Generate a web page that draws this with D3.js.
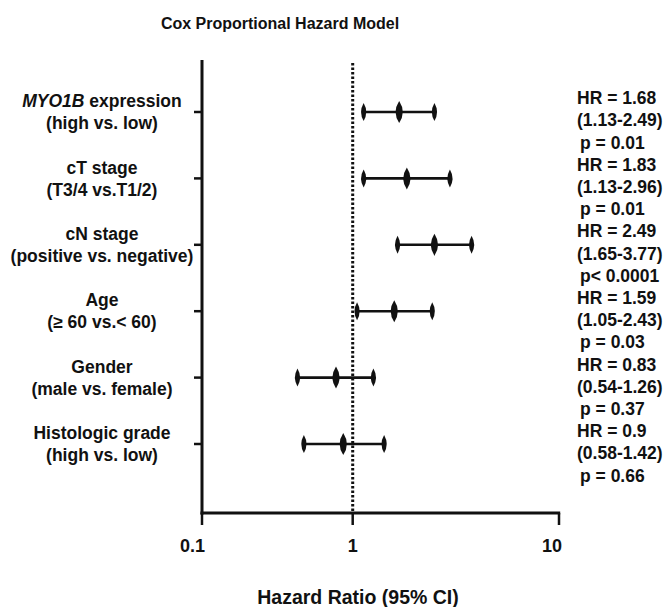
<!DOCTYPE html>
<html>
<head>
<meta charset="utf-8">
<script src="https://cdn.jsdelivr.net/npm/d3@7"></script>
<style>
  body { margin: 0; background: #fff; }
  text { font-family: "Liberation Sans", Arial, Helvetica, sans-serif; font-weight: bold; fill: #111; }
</style>
</head>
<body>
<script>
// forest plot data
var factors = ["MYO1B expression", "cT stage", "cN stage", "Age", "Gender", "Histologic grade"];
var comparisons = ["(high vs. low)", "(T3/4 vs.T1/2)", "(positive vs. negative)", "(\u2265 60 vs.< 60)", "(male vs. female)", "(high vs. low)"];
var hr = [1.68, 1.83, 2.49, 1.59, 0.83, 0.9];
var lower = [1.13, 1.13, 1.65, 1.05, 0.54, 0.58];
var upper = [2.49, 2.96, 3.77, 2.43, 1.26, 1.42];
var pvals = ["p = 0.01", "p = 0.01", "p< 0.0001", "p = 0.03", "p = 0.37", "p = 0.66"];
var tickLabels = ["0.1", "1", "10"];

var W = 667, H = 607;
var svg = d3.select("body").append("svg")
    .attr("width", W)
    .attr("height", H);

// log axis (the left end of the axis is labelled 0.1)
var axisStart = 0.186;
var x = d3.scaleLog().domain([axisStart, 10]).range([202, 559]);
var y = d3.scalePoint().domain(factors).range([112, 444]);
var axisTop = 60, axisBottom = 513;

svg.append("text")
    .attr("x", 280).attr("y", 29)
    .attr("text-anchor", "middle")
    .style("font-size", "16px")
    .text("Cox Proportional Hazard Model");

// y axis
svg.append("line")
    .attr("x1", x(axisStart)).attr("x2", x(axisStart))
    .attr("y1", axisTop).attr("y2", axisBottom + 1.5)
    .attr("stroke", "#111").attr("stroke-width", 3);
svg.selectAll(".ytick")
    .data(factors)
    .enter()
        .append("line")
        .attr("x1", x(axisStart) - 8).attr("x2", x(axisStart))
        .attr("y1", function(d) { return y(d); })
        .attr("y2", function(d) { return y(d); })
        .attr("stroke", "#111").attr("stroke-width", 2.5);

// x axis
var tickVals = [axisStart, 1, 10];
svg.append("line")
    .attr("x1", x(axisStart) - 1.5).attr("x2", x(10) + 1.2)
    .attr("y1", axisBottom).attr("y2", axisBottom)
    .attr("stroke", "#111").attr("stroke-width", 3);
svg.selectAll(".xtick")
    .data(tickVals)
    .enter()
        .append("line")
        .attr("x1", function(d) { return x(d); })
        .attr("x2", function(d) { return x(d); })
        .attr("y1", axisBottom).attr("y2", axisBottom + 12)
        .attr("stroke", "#111").attr("stroke-width", 2.5);
svg.selectAll(".xlab")
    .data(tickVals)
    .enter()
        .append("text")
        .attr("x", function(d, i) { return x(d) + (i == 1 ? 0 : 3); })
        .attr("y", 552)
        .attr("text-anchor", function(d, i) { return i == 1 ? "middle" : "end"; })
        .style("font-size", "18px")
        .text(function(d, i) { return tickLabels[i]; });

svg.append("text")
    .attr("x", 358).attr("y", 604)
    .attr("text-anchor", "middle")
    .style("font-size", "19.5px")
    .text("Hazard Ratio (95% CI)");

// reference line at HR = 1
svg.append("line")
    .attr("x1", x(1)).attr("x2", x(1))
    .attr("y1", 63).attr("y2", axisBottom)
    .attr("stroke", "#111").attr("stroke-width", 3)
    .attr("stroke-dasharray", "2.5,2");

// row labels
var labels = svg.selectAll(".rowlab")
    .data(factors)
    .enter()
        .append("text")
        .attr("text-anchor", "middle")
        .style("font-size", "17.5px");
labels.append("tspan")
    .attr("x", 102)
    .attr("y", function(d) { return y(d) - 11; })
    .attr("dy", "0.35em")
    .each(function(d, i) {
        if (i == 0) {
            d3.select(this).append("tspan").style("font-style", "italic").text("MYO1B");
            d3.select(this).append("tspan").text(" expression");
        } else {
            d3.select(this).text(d);
        }
    });
labels.append("tspan")
    .attr("x", 102)
    .attr("y", function(d) { return y(d) + 11; })
    .attr("dy", "0.35em")
    .text(function(d, i) { return comparisons[i]; });

// CI whiskers
var rows = svg.selectAll(".row")
    .data(factors)
    .enter()
        .append("g");
rows.append("line")
    .attr("x1", function(d, i) { return x(lower[i]); })
    .attr("x2", function(d, i) { return x(upper[i]); })
    .attr("y1", function(d) { return y(d); })
    .attr("y2", function(d) { return y(d); })
    .attr("stroke", "#111").attr("stroke-width", 2.6);

function lens(w, h) {
    return "M0," + (-h) + "Q" + (w * 2) + ",0 0," + h + "Q" + (-w * 2) + ",0 0," + (-h) + "Z";
}
rows.append("path")
    .attr("d", lens(2.6, 9))
    .attr("transform", function(d, i) { return "translate(" + x(lower[i]) + "," + y(d) + ")"; })
    .attr("fill", "#111");
rows.append("path")
    .attr("d", lens(2.6, 9))
    .attr("transform", function(d, i) { return "translate(" + x(upper[i]) + "," + y(d) + ")"; })
    .attr("fill", "#111");
rows.append("path")
    .attr("d", lens(3.6, 11))
    .attr("transform", function(d, i) { return "translate(" + x(hr[i]) + "," + y(d) + ")"; })
    .attr("fill", "#111");

// HR text on right
var statsTop = 98, statsStep = 22.2;
var stats = [];
hr.forEach(function(v, i) {
    stats.push({t: "HR = " + v, k: i * 3, dx: 0});
    stats.push({t: "(" + lower[i].toFixed(2) + "-" + upper[i].toFixed(2) + ")", k: i * 3 + 1, dx: 0});
    stats.push({t: pvals[i], k: i * 3 + 2, dx: 3});
});
svg.selectAll(".stat")
    .data(stats)
    .enter()
        .append("text")
        .attr("x", function(d) { return 577 + d.dx; })
        .attr("y", function(d) { return statsTop + statsStep * d.k; })
        .attr("dy", "0.35em")
        .style("font-size", "17.5px")
        .text(function(d) { return d.t; });
</script>
</body>
</html>
